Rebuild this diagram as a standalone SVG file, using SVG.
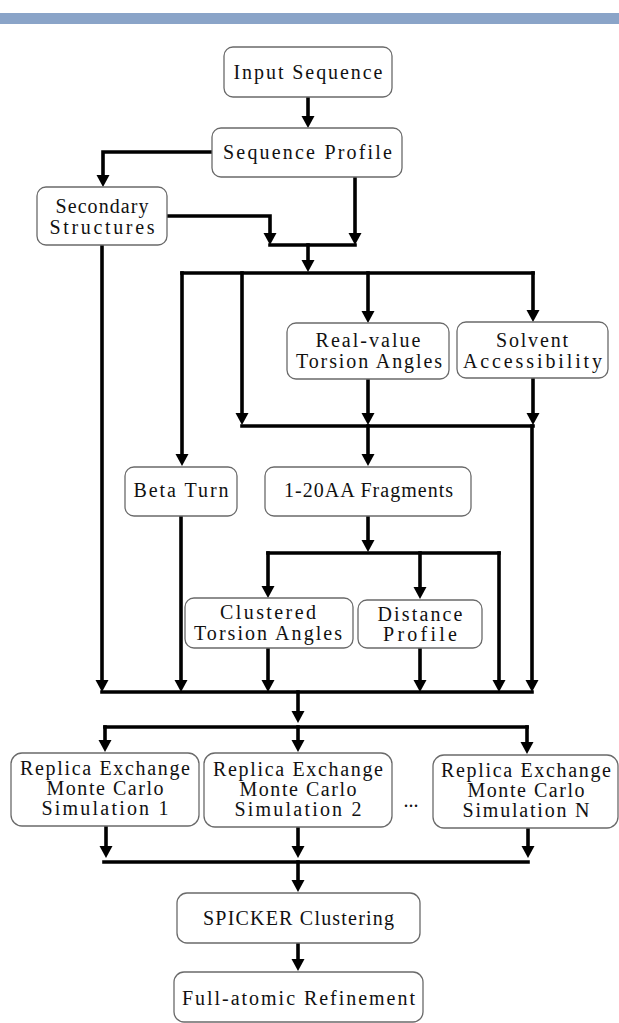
<svg xmlns="http://www.w3.org/2000/svg" xmlns:xlink="http://www.w3.org/1999/xlink" width="619" height="1023" viewBox="0 0 619 1023">
<defs>
<style>
.box{fill:#fff;stroke:#6a6a6a;stroke-width:1.3}
.t{font-family:"Liberation Serif","Times New Roman",serif;font-size:20px;fill:#111;text-anchor:middle}
.c{fill:none;stroke:#000;stroke-width:3.6;stroke-linejoin:miter;stroke-linecap:square}
.ah{fill:#000}
</style>
<path id="ah" class="ah" d="M-6.5,-12 L6.5,-12 L0,0 Z"/>
</defs>
<rect x="0" y="13" width="619" height="11" fill="#8AA4C8"/>

<g id="connectors">
<path class="c" d="M308,97 V116"/>
<path class="c" d="M212,152 H103 V175"/>
<path class="c" d="M167,216 H270 V233"/>
<path class="c" d="M355,177 V233"/>
<path class="c" d="M270,245 H355"/>
<path class="c" d="M308,245 V260"/>
<path class="c" d="M182,273 H533"/>
<path class="c" d="M182,273 V454"/>
<path class="c" d="M242,273 V413"/>
<path class="c" d="M368,273 V311"/>
<path class="c" d="M533,273 V310"/>
<path class="c" d="M368,379 V413"/>
<path class="c" d="M533,378 V413"/>
<path class="c" d="M242,426 H533"/>
<path class="c" d="M368,426 V454"/>
<path class="c" d="M532,426 V680"/>
<path class="c" d="M102,245 V680"/>
<path class="c" d="M181,516 V680"/>
<path class="c" d="M368,516 V540"/>
<path class="c" d="M268,553 H499"/>
<path class="c" d="M268,553 V586"/>
<path class="c" d="M420,553 V587"/>
<path class="c" d="M499,553 V680"/>
<path class="c" d="M268,648 V680"/>
<path class="c" d="M420,648 V680"/>
<path class="c" d="M102,692 H532"/>
<path class="c" d="M298,692 V711"/>
<path class="c" d="M105,727 H527"/>
<path class="c" d="M105,727 V740"/>
<path class="c" d="M298,727 V740"/>
<path class="c" d="M527,727 V742"/>
<path class="c" d="M106,826 V846"/>
<path class="c" d="M298,827 V846"/>
<path class="c" d="M528,828 V846"/>
<path class="c" d="M104,862 H528"/>
<path class="c" d="M298,862 V880"/>
<path class="c" d="M298,943 V959"/>
<use xlink:href="#ah" x="308" y="128"/>
<use xlink:href="#ah" x="103" y="187"/>
<use xlink:href="#ah" x="270" y="245"/>
<use xlink:href="#ah" x="355" y="245"/>
<use xlink:href="#ah" x="308" y="272"/>
<use xlink:href="#ah" x="182" y="466"/>
<use xlink:href="#ah" x="242" y="425"/>
<use xlink:href="#ah" x="368" y="323"/>
<use xlink:href="#ah" x="533" y="322"/>
<use xlink:href="#ah" x="368" y="425"/>
<use xlink:href="#ah" x="533" y="425"/>
<use xlink:href="#ah" x="368" y="466"/>
<use xlink:href="#ah" x="532" y="692"/>
<use xlink:href="#ah" x="102" y="692"/>
<use xlink:href="#ah" x="181" y="692"/>
<use xlink:href="#ah" x="368" y="552"/>
<use xlink:href="#ah" x="268" y="598"/>
<use xlink:href="#ah" x="420" y="599"/>
<use xlink:href="#ah" x="499" y="692"/>
<use xlink:href="#ah" x="268" y="692"/>
<use xlink:href="#ah" x="420" y="692"/>
<use xlink:href="#ah" x="298" y="723"/>
<use xlink:href="#ah" x="105" y="752"/>
<use xlink:href="#ah" x="298" y="752"/>
<use xlink:href="#ah" x="527" y="754"/>
<use xlink:href="#ah" x="106" y="858"/>
<use xlink:href="#ah" x="298" y="858"/>
<use xlink:href="#ah" x="528" y="858"/>
<use xlink:href="#ah" x="298" y="892"/>
<use xlink:href="#ah" x="298" y="971"/>
</g>

<g id="input-sequence">
<rect class="box" x="224" y="47" width="168" height="50" rx="9"/>
<text class="t" x="308" y="79" textLength="149">Input Sequence</text>
</g>
<g id="sequence-profile">
<rect class="box" x="212" y="128" width="190" height="49" rx="9"/>
<text class="t" x="307.5" y="159" textLength="169">Sequence Profile</text>
</g>
<g id="secondary-structures">
<rect class="box" x="37" y="187" width="130" height="58" rx="9"/>
<text class="t" x="102" y="213" textLength="93">Secondary</text>
<text class="t" x="102" y="234" textLength="105">Structures</text>
</g>
<g id="real-value-torsion">
<rect class="box" x="287" y="323" width="162" height="56" rx="9"/>
<text class="t" x="368" y="347" textLength="105">Real-value</text>
<text class="t" x="369" y="368" textLength="146">Torsion Angles</text>
</g>
<g id="solvent-accessibility">
<rect class="box" x="457" y="322" width="151" height="56" rx="9"/>
<text class="t" x="532" y="347" textLength="72">Solvent</text>
<text class="t" x="532.5" y="368" textLength="139">Accessibility</text>
</g>
<g id="beta-turn">
<rect class="box" x="125" y="467" width="112" height="49" rx="9"/>
<text class="t" x="181" y="497" textLength="95">Beta Turn</text>
</g>
<g id="fragments">
<rect class="box" x="265" y="467" width="206" height="49" rx="9"/>
<text class="t" x="368.5" y="497" textLength="169">1-20AA Fragments</text>
</g>
<g id="clustered-torsion">
<rect class="box" x="185" y="598" width="168" height="50" rx="9"/>
<text class="t" x="268" y="619" textLength="96">Clustered</text>
<text class="t" x="268" y="640" textLength="148">Torsion Angles</text>
</g>
<g id="distance-profile">
<rect class="box" x="358" y="600" width="124" height="48" rx="9"/>
<text class="t" x="420" y="621" textLength="85">Distance</text>
<text class="t" x="420" y="641" textLength="74">Profile</text>
</g>
<g id="replica-1">
<rect class="box" x="11" y="753" width="188" height="73" rx="11"/>
<text class="t" x="105" y="775" textLength="170">Replica Exchange</text>
<text class="t" x="105" y="795" textLength="117">Monte Carlo</text>
<text class="t" x="105" y="815" textLength="127">Simulation 1</text>
</g>
<g id="replica-2">
<rect class="box" x="204" y="753" width="188" height="74" rx="11"/>
<text class="t" x="298" y="776" textLength="170">Replica Exchange</text>
<text class="t" x="298" y="796" textLength="117">Monte Carlo</text>
<text class="t" x="298" y="816" textLength="127">Simulation 2</text>
</g>
<text class="t" x="411" y="807">...</text>
<g id="replica-n">
<rect class="box" x="433" y="755" width="185" height="73" rx="11"/>
<text class="t" x="526" y="777" textLength="170">Replica Exchange</text>
<text class="t" x="526" y="797" textLength="117">Monte Carlo</text>
<text class="t" x="526" y="817" textLength="127">Simulation N</text>
</g>
<g id="spicker">
<rect class="box" x="177" y="893" width="243" height="50" rx="10"/>
<text class="t" x="298.5" y="925" textLength="191">SPICKER Clustering</text>
</g>
<g id="full-atomic">
<rect class="box" x="174" y="972" width="249" height="50" rx="10"/>
<text class="t" x="298.5" y="1005" textLength="233">Full-atomic Refinement</text>
</g>
</svg>
